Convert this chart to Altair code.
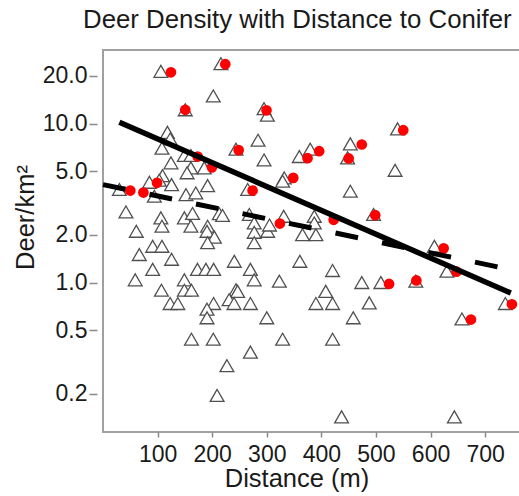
import altair as alt
import pandas as pd

# Open triangles (all sites)
tri_x = [106, 216, 202, 150.7, 295, 301, 118, 123, 108, 284, 243.6, 295, 379.6, 359.6,
         124.5, 149, 161, 185.5, 161, 154, 109, 103, 85, 125.6, 332, 329, 30, 94, 152, 170,
         191.6, 265, 42, 106, 108, 149, 164, 161, 213, 219, 191.6, 190.5, 204, 268, 277, 277,
         301.6, 331, 365.5, 387, 387, 61, 91, 108, 191.6, 277, 390, 66.5, 125.6, 91, 59, 173,
         188.5, 202.6, 240.5, 270, 277, 323, 360.6, 149, 107, 149, 162, 123, 137, 243.6, 246.6,
         231, 240, 270, 202.6, 190.5, 190.5, 300, 390, 162, 202, 329, 270, 227, 209, 539.5,
         453, 448, 535, 453, 495.6, 607, 420.5, 474, 509, 573, 630, 408, 420.5, 487.7, 458.4,
         420.5, 657.5, 737, 437, 643.6, 305]
tri_y = [21.3, 23.8, 14.9, 12.2, 12.4, 11.3, 8.8, 8.0, 7.0, 7.85, 6.9, 5.9, 6.9, 6.2,
         5.66, 6.3, 6.3, 5.26, 5.26, 4.9, 4.7, 4.4, 4.27, 4.13, 4.55, 4.34, 3.85, 3.49, 3.57, 3.66,
         4.07, 3.85, 2.78, 2.55, 2.26, 2.55, 2.72, 2.26, 2.71, 2.64, 2.26, 2.1, 1.93, 2.68, 2.37, 2.07,
         2.1, 2.61, 2.0, 2.61, 2.37, 2.1, 1.69, 1.69, 1.78, 1.78, 2.0, 1.5, 1.40, 1.21, 1.04, 1.21,
         1.21, 1.21, 1.36, 1.21, 1.04, 1.02, 1.36, 1.04, 0.895, 0.895, 0.895, 0.738, 0.738, 0.90, 0.88,
         0.78, 0.738, 0.738, 0.738, 0.68, 0.60, 0.60, 0.738, 0.44, 0.44, 0.44, 0.365, 0.30, 0.195, 9.26,
         7.45, 6.08, 5.08, 3.75, 2.68, 1.69, 1.19, 1.0, 1.0, 1.02, 1.18, 0.88, 0.738, 0.745, 0.60,
         0.44, 0.59, 0.738, 0.143, 0.143, 2.3]

# Red filled circles
red_x = [124.5, 224, 150.7, 299.5, 248.5, 173.4, 199.6, 99, 50, 74, 274, 348.5, 374.7, 396,
         550, 474, 450, 498.7, 422.5, 324, 624, 647.5, 524, 574, 674, 749]
red_y = [21.0, 23.6, 12.2, 12.1, 6.8, 6.2, 5.3, 4.24, 3.79, 3.68, 3.79, 4.55, 6.05, 6.7,
         9.08, 7.38, 6.03, 2.65, 2.48, 2.35, 1.64, 1.17, 0.98, 1.03, 0.585, 0.73]

# Fitted lines (end points)
solid_x = [30, 747]
solid_y = [10.2, 0.859]
dash_x = [0, 726]
dash_y = [4.13, 1.248]

x_ticks = [100, 200, 300, 400, 500, 600, 700]
y_ticks = [0.2, 0.5, 1, 2, 5, 10, 20]

W, H = 416, 382
FONT = "Liberation Sans"

tri = pd.DataFrame({"d": tri_x, "v": tri_y})
red = pd.DataFrame({"d": red_x, "v": red_y})
sol = pd.DataFrame({"d": solid_x, "v": solid_y})
das = pd.DataFrame({"d": dash_x, "v": dash_y})

xs = alt.Scale(domain=[0, 762], nice=False, zero=False)
ys = alt.Scale(type="log", domain=[0.1148, 29.0], nice=False)

xax = alt.Axis(values=x_ticks, title="Distance (m)", grid=False, domain=False,
               tickSize=5, tickColor="#888888", tickWidth=1.5,
               labelFont=FONT, labelFontSize=23, labelColor="#1a1a1a", labelPadding=6,
               titleFont=FONT, titleFontSize=25.5, titleFontWeight="normal", titleColor="#1a1a1a",
               titleBaseline="alphabetic", titleX=193.5, titleY=54.5, titleAnchor="start", titleAlign="center")
yax = alt.Axis(values=y_ticks, format=".1f", title="Deer/km²", grid=False, domain=False,
               offset=6, tickSize=8, tickColor="#888888", tickWidth=1.5,
               labelFont=FONT, labelFontSize=23, labelColor="#1a1a1a", labelPadding=2,
               titleFont=FONT, titleFontSize=25.5, titleFontWeight="normal", titleColor="#1a1a1a",
               titleBaseline="alphabetic", titleX=-64, titleY=167, titleAnchor="start", titleAlign="center",
               titleAngle=270)

base_x = alt.X("d:Q", scale=xs, axis=xax)
base_y = alt.Y("v:Q", scale=ys, axis=yax)

tri_layer = alt.Chart(tri).mark_point(shape="triangle-up", filled=True, fill="white",
                                       stroke="#505050", strokeWidth=1.3, size=190, opacity=1).encode(
    x=base_x, y=base_y)
red_layer = alt.Chart(red).mark_circle(size=115, color="#ff0000", opacity=1).encode(x=base_x, y=base_y)
sol_layer = alt.Chart(sol).mark_line(color="black", strokeWidth=5.5).encode(x=base_x, y=base_y)
das_layer = alt.Chart(das).mark_line(color="black", strokeWidth=5, strokeDash=[23, 24.5]).encode(
    x=base_x, y=base_y)

chart = alt.layer(tri_layer, red_layer, sol_layer, das_layer).properties(
    width=W, height=H,
    title=alt.TitleParams(text="Deer Density with Distance to Conifer", anchor="start", frame="group",
                          dx=-20, dy=4,
                          fontSize=25.8, font=FONT, fontWeight="normal", color="#1a1a1a",
                          baseline="alphabetic", offset=0),
    autosize=alt.AutoSizeParams(type="none"),
    padding={"left": 103, "top": 50, "right": 0, "bottom": 64},
).configure_view(
    stroke="#a0a0a0", strokeWidth=2, strokeDash=[W, H, W + H, 1]
)

chart.save("out.html", embed_options={"renderer": "svg", "actions": False})
